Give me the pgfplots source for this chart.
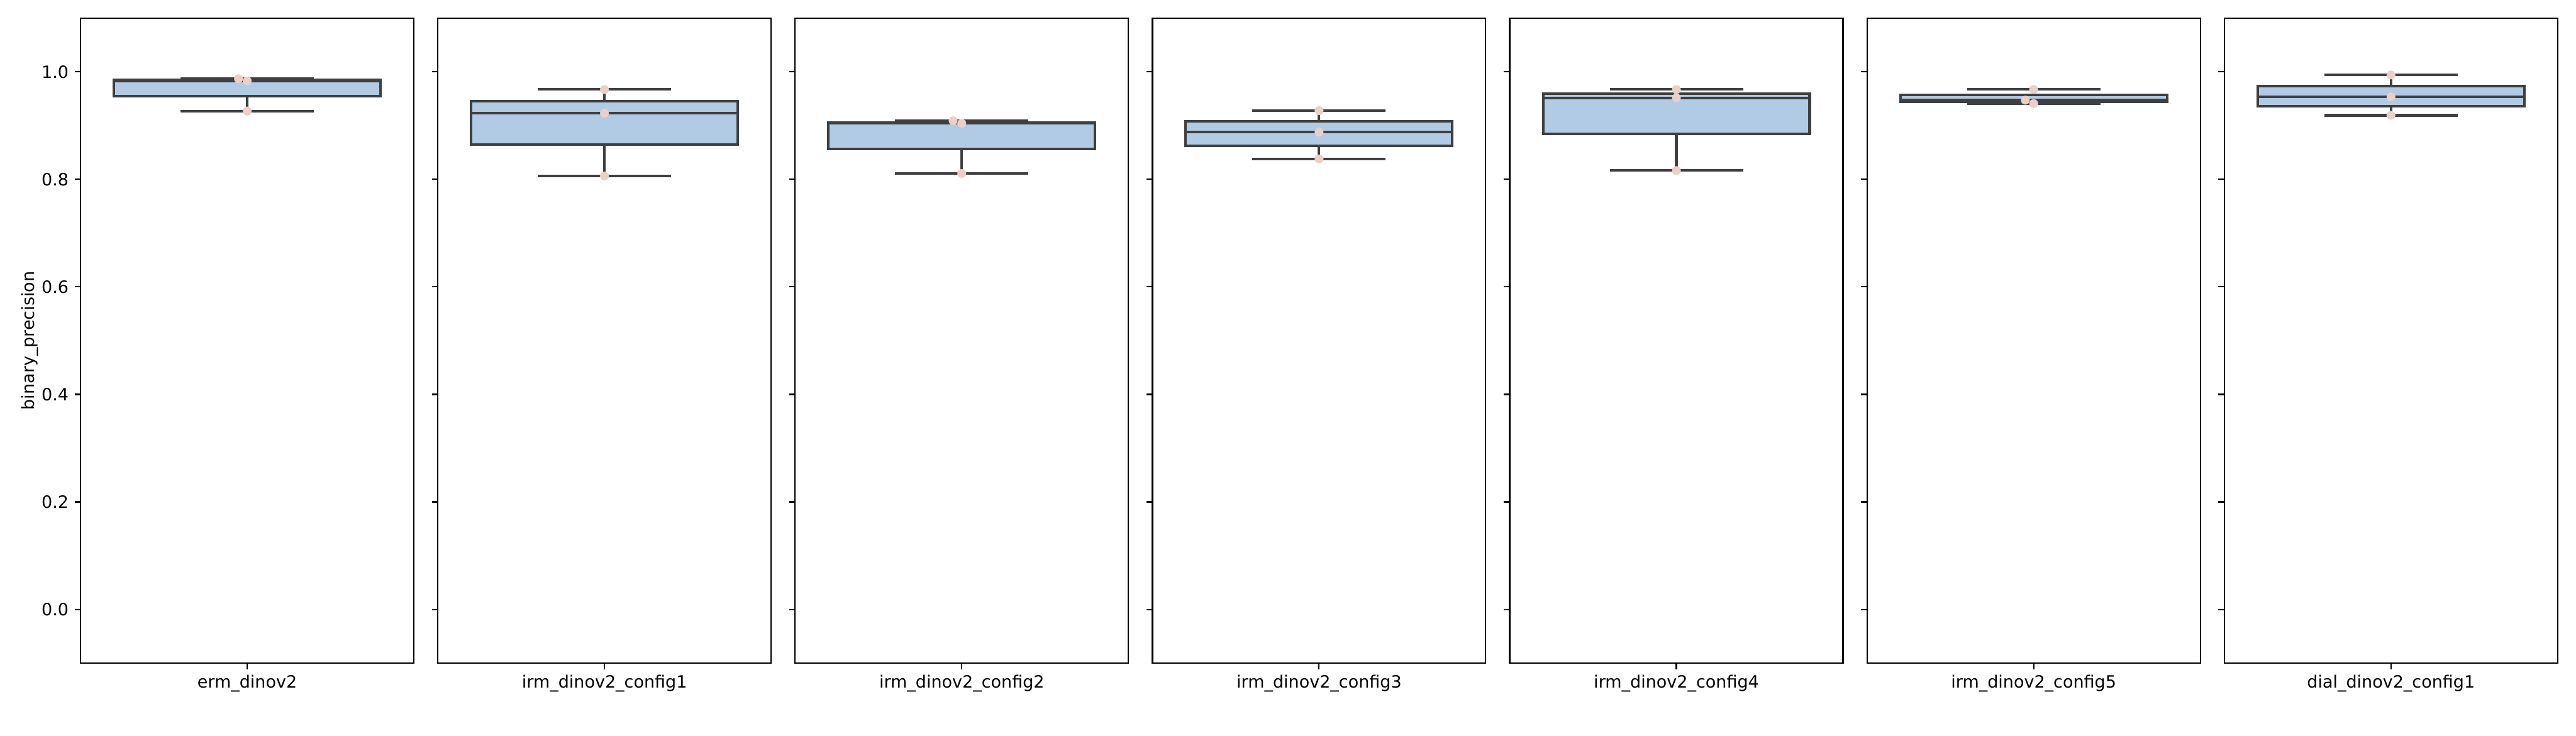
\documentclass[border=0pt]{standalone}
\usepackage{fontspec}
\setmainfont{DejaVu Sans}
\usepackage{pgfplots}
\pgfplotsset{compat=1.18}
\definecolor{boxfill}{RGB}{176,203,227}
\definecolor{boxline}{RGB}{63,63,63}
\definecolor{ptcol}{RGB}{234,208,200}
\pgfplotsset{
  panel/.style={
    scale only axis, width=2.7167in, height=5.263in, anchor=south west,
    xmin=-0.5, xmax=0.5, ymin=-0.1, ymax=1.1,
    xtick={0}, ytick={0,0.2,0.4,0.6,0.8,1.0}, yticklabels={},
    tick pos=left, tick align=outside, major tick length=3.5pt,
    every tick/.style={black, line width=0.8pt},
    axis line style={line width=0.8pt, black},
    tick label style={font=\fontsize{10}{12}\selectfont},
    label style={font=\fontsize{10}{12}\selectfont},
    ylabel shift=-5pt,
  },
  bl/.style={draw=boxline, line width=1.5pt, line join=miter, line cap=butt, mark=none, solid},
  mypts/.style={only marks, mark=*, mark size=2.5pt, mark options={fill=ptcol, draw=ptcol, line width=0.2pt}},
}
% #1 lower whisker, #2 lower quartile, #3 median, #4 upper quartile, #5 upper whisker
\newcommand\bx[5]{%
  \addplot[bl] coordinates {(0,#4) (0,#5)};
  \addplot[bl] coordinates {(0,#1) (0,#2)};
  \addplot[bl, fill=boxfill] coordinates {(-0.4,#2) (0.4,#2) (0.4,#4) (-0.4,#4)} -- cycle;
  \addplot[bl] coordinates {(-0.4,#3) (0.4,#3)};
  \addplot[bl] coordinates {(-0.2,#5) (0.2,#5)};
  \addplot[bl] coordinates {(-0.2,#1) (0.2,#1)};
}
\begin{document}
\begin{tikzpicture}
\useasboundingbox (0,0) rectangle (21in,6in);
% 1
\begin{axis}[panel, at={(0.6567in,0.59in)}, xticklabels={erm\_dinov2},
  yticklabels={0.0,0.2,0.4,0.6,0.8,1.0}, ylabel={binary\_precision}]
\bx{0.927}{0.955}{0.983}{0.985}{0.987}
\addplot[mypts] coordinates {(-0.026,0.987) (0,0.983) (0,0.927)};
\end{axis}
% 2
\begin{axis}[panel, at={(3.5694in,0.59in)}, xticklabels={irm\_dinov2\_config1}]
\bx{0.806}{0.8645}{0.923}{0.945}{0.967}
\addplot[mypts] coordinates {(0,0.967) (0,0.923) (0,0.806)};
\end{axis}
% 3
\begin{axis}[panel, at={(6.4821in,0.59in)}, xticklabels={irm\_dinov2\_config2}]
\bx{0.811}{0.857}{0.904}{0.906}{0.909}
\addplot[mypts] coordinates {(-0.026,0.909) (0,0.904) (0,0.811)};
\end{axis}
% 4
\begin{axis}[panel, at={(9.3948in,0.59in)}, xticklabels={irm\_dinov2\_config3}]
\bx{0.838}{0.8628}{0.8876}{0.9077}{0.9277}
\addplot[mypts] coordinates {(0,0.9277) (0,0.8876) (0,0.838)};
\end{axis}
% 5
\begin{axis}[panel, at={(12.3075in,0.59in)}, xticklabels={irm\_dinov2\_config4}]
\bx{0.8162}{0.884}{0.9515}{0.959}{0.967}
\addplot[mypts] coordinates {(0,0.967) (0,0.9515) (0,0.8162)};
\end{axis}
% 6
\begin{axis}[panel, at={(15.2202in,0.59in)}, xticklabels={irm\_dinov2\_config5}]
\bx{0.9408}{0.944}{0.9472}{0.957}{0.967}
\addplot[mypts] coordinates {(0,0.967) (-0.025,0.9472) (0,0.9408)};
\end{axis}
% 7
\begin{axis}[panel, at={(18.1329in,0.59in)}, xticklabels={dial\_dinov2\_config1}]
\bx{0.919}{0.9362}{0.9533}{0.9737}{0.9941}
\addplot[mypts] coordinates {(0,0.9941) (0,0.9533) (0,0.919)};
\end{axis}
\end{tikzpicture}
\end{document}
